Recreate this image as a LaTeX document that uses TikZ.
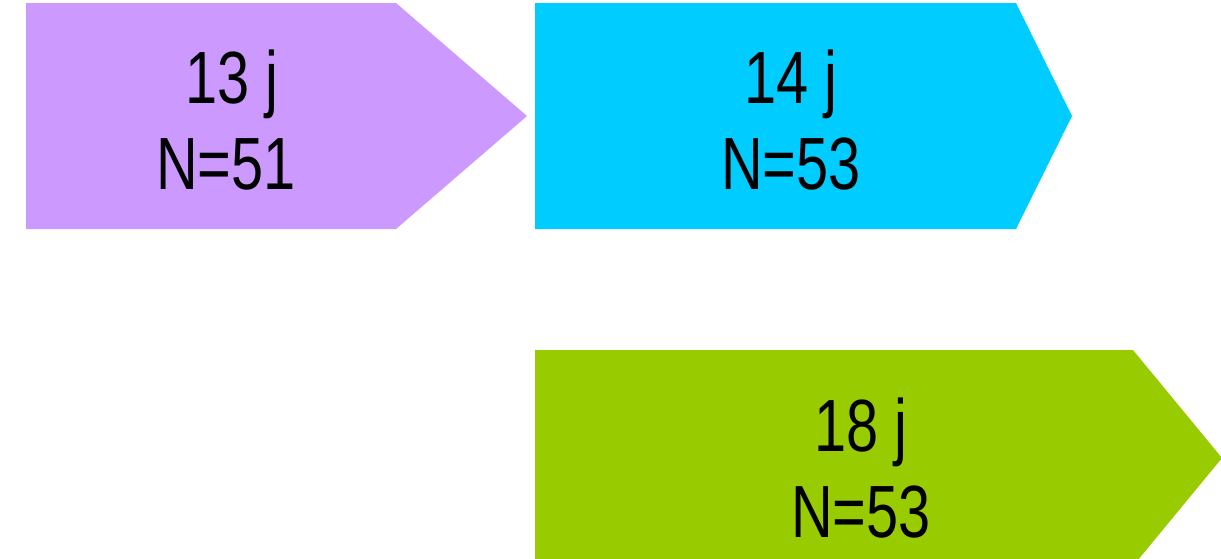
\documentclass[tikz,border=0pt]{standalone}
\usepackage{fontspec}
\setmainfont{Liberation Sans}
\newfontfamily\narrowsans[FakeStretch=0.78]{Liberation Sans}
\definecolor{lilac}{HTML}{CC99FF}
\definecolor{skyblue}{HTML}{00CCFF}
\definecolor{lime}{HTML}{99CC00}
\tikzset{
  lbl/.style={anchor=base, inner sep=0pt, font=\narrowsans\fontsize{74}{86}\selectfont, text=black},
}
\begin{document}
\begin{tikzpicture}[x=1pt, y=-1pt]
\useasboundingbox (0,0) rectangle (1221,558);
% pentagon arrows
\fill[lilac] (26,3) -- (396,3) -- (527,116) -- (396,229) -- (26,229) -- cycle;
\fill[skyblue] (535,3) -- (1016,3) -- (1072,116) -- (1016,229) -- (535,229) -- cycle;
\fill[lime] (535,350) -- (1133,350) -- (1222,458) -- (1133,566) -- (535,566) -- cycle;
% labels
\node[lbl] (a1) at (232,103) {13 j};
\node[lbl] (a2) at (226,189) {N=51};
\node[lbl] (b1) at (791,103) {14 j};
\node[lbl] (b2) at (791,189) {N=53};
\node[lbl] (c1) at (861,451) {18 j};
\node[lbl] (c2) at (861,537) {N=53};
\end{tikzpicture}
\end{document}
